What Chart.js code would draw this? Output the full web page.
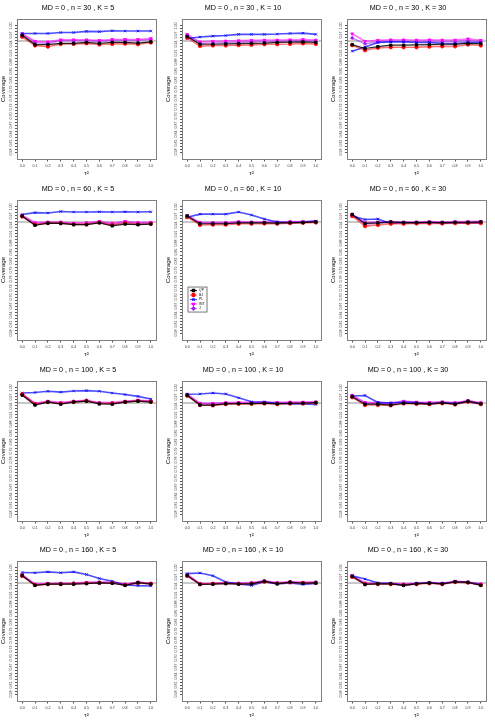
<!DOCTYPE html>
<html>
<head>
<meta charset="utf-8">
<script src="https://cdn.jsdelivr.net/npm/chart.js@4.4.0/dist/chart.umd.min.js"></script>
<style>
body { margin: 0; background: #fff; }
#grid { position: relative; width: 495px; height: 726px; }
#grid canvas { position: absolute; }
</style>
</head>
<body>
<div id="grid"></div>
<script>
const tau = [0.0, 0.1, 0.2, 0.3, 0.4, 0.5, 0.6, 0.7, 0.8, 0.9, 1.0];
const methods = ["QP", "BJ", "PL", "INT", "J"];
const panelN = [30, 30, 30, 60, 60, 60, 100, 100, 100, 160, 160, 160];
const panelK = [5, 10, 30, 5, 10, 30, 5, 10, 30, 5, 10, 30];
const nominal = 0.95;
const yLabelValues = [0.58, 0.61, 0.64, 0.67, 0.70, 0.73, 0.76, 0.79, 0.82, 0.85, 0.88, 0.91, 0.94, 0.97, 1.00];

// one row per panel, left to right, top to bottom
const covQP = [
  [0.969,0.938,0.938,0.942,0.942,0.945,0.942,0.945,0.945,0.943,0.947],
  [0.965,0.939,0.939,0.940,0.941,0.942,0.943,0.945,0.946,0.947,0.945],
  [0.938,0.925,0.931,0.936,0.936,0.937,0.938,0.939,0.939,0.942,0.941],
  [0.970,0.939,0.946,0.945,0.941,0.941,0.947,0.937,0.943,0.941,0.943],
  [0.970,0.944,0.944,0.944,0.947,0.947,0.947,0.946,0.948,0.948,0.950],
  [0.975,0.945,0.947,0.950,0.948,0.948,0.949,0.948,0.949,0.949,0.950],
  [0.976,0.943,0.953,0.946,0.953,0.956,0.947,0.946,0.953,0.956,0.953],
  [0.976,0.943,0.943,0.947,0.948,0.948,0.949,0.947,0.949,0.949,0.951],
  [0.971,0.946,0.946,0.943,0.949,0.948,0.947,0.950,0.946,0.956,0.947],
  [0.975,0.942,0.946,0.946,0.946,0.948,0.950,0.949,0.942,0.951,0.946],
  [0.975,0.945,0.946,0.948,0.946,0.947,0.956,0.947,0.953,0.949,0.950],
  [0.972,0.945,0.947,0.947,0.942,0.947,0.950,0.947,0.954,0.952,0.942]
];
const covBJ = [
  [0.964,0.935,0.931,0.940,0.940,0.942,0.938,0.940,0.941,0.939,0.945],
  [0.961,0.933,0.935,0.935,0.936,0.937,0.939,0.939,0.940,0.942,0.940],
  [0.936,0.919,0.927,0.929,0.929,0.929,0.931,0.932,0.932,0.938,0.935],
  [0.968,0.941,0.946,0.946,0.942,0.942,0.948,0.940,0.946,0.942,0.944],
  [0.966,0.940,0.941,0.941,0.944,0.944,0.945,0.944,0.946,0.947,0.948],
  [0.970,0.936,0.940,0.944,0.944,0.945,0.945,0.945,0.946,0.946,0.946],
  [0.979,0.946,0.953,0.948,0.953,0.957,0.948,0.948,0.953,0.957,0.954],
  [0.974,0.943,0.942,0.946,0.947,0.947,0.948,0.946,0.948,0.948,0.950],
  [0.969,0.943,0.943,0.942,0.948,0.947,0.946,0.949,0.945,0.954,0.946],
  [0.973,0.943,0.946,0.946,0.947,0.949,0.950,0.950,0.943,0.950,0.947],
  [0.973,0.946,0.947,0.949,0.947,0.948,0.954,0.948,0.952,0.950,0.950],
  [0.970,0.946,0.946,0.946,0.943,0.946,0.949,0.946,0.953,0.951,0.943]
];
const covPL = [
  [0.975,0.975,0.975,0.978,0.978,0.982,0.981,0.984,0.983,0.983,0.983],
  [0.958,0.963,0.966,0.968,0.972,0.972,0.972,0.973,0.975,0.976,0.972],
  [0.916,0.930,0.945,0.947,0.947,0.945,0.945,0.942,0.941,0.945,0.945],
  [0.975,0.981,0.980,0.985,0.983,0.983,0.984,0.983,0.984,0.983,0.984],
  [0.966,0.976,0.976,0.976,0.983,0.973,0.960,0.950,0.947,0.950,0.953],
  [0.970,0.958,0.960,0.945,0.948,0.947,0.948,0.946,0.947,0.947,0.947],
  [0.983,0.985,0.989,0.986,0.990,0.991,0.989,0.983,0.978,0.972,0.963],
  [0.979,0.980,0.983,0.980,0.967,0.954,0.953,0.949,0.947,0.947,0.945],
  [0.973,0.975,0.952,0.950,0.953,0.951,0.946,0.951,0.948,0.954,0.947],
  [0.985,0.984,0.987,0.984,0.987,0.978,0.965,0.956,0.943,0.941,0.940],
  [0.981,0.983,0.974,0.953,0.947,0.942,0.954,0.947,0.950,0.945,0.948],
  [0.974,0.963,0.950,0.949,0.942,0.948,0.950,0.947,0.954,0.952,0.945]
];
const covINT = [
  [0.974,0.949,0.947,0.954,0.954,0.954,0.952,0.955,0.955,0.955,0.958],
  [0.972,0.947,0.949,0.950,0.951,0.952,0.953,0.953,0.954,0.955,0.953],
  [0.974,0.949,0.952,0.954,0.954,0.953,0.954,0.953,0.953,0.957,0.952],
  [0.972,0.948,0.950,0.950,0.946,0.948,0.952,0.946,0.952,0.948,0.949],
  [0.972,0.948,0.948,0.948,0.951,0.950,0.950,0.950,0.951,0.951,0.952],
  [0.976,0.948,0.950,0.951,0.950,0.950,0.951,0.950,0.951,0.951,0.952],
  [0.980,0.949,0.956,0.951,0.956,0.959,0.951,0.951,0.956,0.959,0.957],
  [0.979,0.949,0.949,0.951,0.952,0.952,0.953,0.952,0.953,0.953,0.954],
  [0.976,0.952,0.951,0.950,0.956,0.953,0.952,0.954,0.951,0.958,0.951],
  [0.978,0.946,0.948,0.949,0.950,0.952,0.953,0.952,0.946,0.953,0.949],
  [0.979,0.948,0.949,0.951,0.949,0.951,0.957,0.951,0.954,0.952,0.953],
  [0.975,0.950,0.949,0.949,0.946,0.949,0.952,0.949,0.956,0.953,0.947]
];
const covJ = [
  [0.972,0.945,0.942,0.951,0.951,0.951,0.949,0.952,0.952,0.952,0.955],
  [0.969,0.942,0.943,0.945,0.946,0.947,0.948,0.949,0.950,0.951,0.949],
  [0.960,0.941,0.947,0.949,0.949,0.948,0.949,0.948,0.948,0.951,0.948],
  [0.970,0.944,0.948,0.948,0.943,0.944,0.950,0.942,0.949,0.946,0.947],
  [0.970,0.946,0.946,0.946,0.949,0.948,0.948,0.948,0.950,0.950,0.951],
  [0.973,0.943,0.946,0.948,0.947,0.947,0.948,0.947,0.948,0.948,0.949],
  [0.979,0.947,0.954,0.949,0.954,0.958,0.949,0.949,0.954,0.958,0.956],
  [0.978,0.947,0.947,0.949,0.950,0.950,0.951,0.949,0.951,0.951,0.952],
  [0.974,0.950,0.949,0.948,0.953,0.951,0.950,0.952,0.949,0.957,0.949],
  [0.976,0.945,0.947,0.948,0.949,0.951,0.952,0.951,0.945,0.952,0.948],
  [0.976,0.947,0.948,0.950,0.948,0.949,0.956,0.949,0.953,0.951,0.952],
  [0.973,0.948,0.948,0.948,0.945,0.948,0.951,0.948,0.954,0.952,0.945]
];

const coverage = [covQP, covBJ, covPL, covINT, covJ];
const lineColors = ["rgba(0,0,0,0.85)", "rgba(255,0,0,0.55)", "rgba(0,0,255,0.7)", "rgba(255,0,255,0.55)", "rgba(160,32,240,0.55)"];
const pointColors = ["#000000", "#ff0000", "#0000ff", "#ff00ff", "#a020f0"];
const pointStyles = ["rect", "circle", "crossRot", "triangle", "rectRot"];

const FONT = "'Liberation Sans', Arial, sans-serif";
const colLeft = [0, 165, 330];
const rowTop = [0, 181, 362, 542];

// minor y ticks every 0.01 between the labelled ones
const yMinor = [];
for (let v = 58; v <= 100; v++) yMinor.push(v / 100);

const framePlugin = {
  id: "frame",
  beforeDatasetsDraw(chart) {
    const { ctx, chartArea: a, scales } = chart;
    const y = scales.y.getPixelForValue(nominal);
    ctx.save();
    ctx.strokeStyle = "#c8c8c8";
    ctx.lineWidth = 2;
    ctx.beginPath();
    ctx.moveTo(a.left, y);
    ctx.lineTo(a.right, y);
    ctx.stroke();
    ctx.restore();
  },
  afterDraw(chart) {
    const { ctx, chartArea: a, scales } = chart;
    ctx.save();
    ctx.strokeStyle = "#808080";
    ctx.lineWidth = 1;
    ctx.strokeRect(Math.round(a.left) + 0.5, Math.round(a.top) + 0.5, Math.round(a.right - a.left), Math.round(a.bottom - a.top));
    // rotated y tick labels, as in base R
    ctx.fillStyle = "#333";
    ctx.font = "3.6px " + FONT;
    ctx.textAlign = "center";
    ctx.textBaseline = "middle";
    yLabelValues.forEach(v => {
      const py = scales.y.getPixelForValue(v);
      ctx.save();
      ctx.translate(a.left - 6, py);
      ctx.rotate(-Math.PI / 2);
      ctx.fillText(v.toFixed(2), 0, 0);
      ctx.restore();
    });
    ctx.restore();
  }
};

const legendPlugin = {
  id: "boxLegend",
  afterDraw(chart, args, opts) {
    if (!opts.show) return;
    const { ctx, chartArea: a } = chart;
    const x0 = a.left + opts.dx, y0 = a.top + opts.dy;
    const w = 19, h = 25;
    ctx.save();
    ctx.fillStyle = "#fff";
    ctx.fillRect(x0, y0, w, h);
    ctx.strokeStyle = "#555";
    ctx.lineWidth = 0.8;
    ctx.strokeRect(x0, y0, w, h);
    ctx.font = "3.4px " + FONT;
    ctx.textBaseline = "middle";
    chart.data.datasets.forEach((ds, i) => {
      const ly = y0 + 3.5 + i * 4.5;
      ctx.strokeStyle = ds.borderColor;
      ctx.lineWidth = 1.2;
      ctx.beginPath();
      ctx.moveTo(x0 + 2, ly);
      ctx.lineTo(x0 + 9, ly);
      ctx.stroke();
      ctx.fillStyle = ds.backgroundColor;
      ctx.strokeStyle = ds.pointBorderColor;
      Chart.helpers.drawPoint(ctx, {
        pointStyle: ds.pointStyle, radius: 1.6, borderWidth: 0.8, rotation: ds.pointRotation || 0
      }, x0 + 5.5, ly);
      ctx.fillStyle = "#000";
      ctx.fillText(ds.label, x0 + 11, ly);
    });
    ctx.restore();
  }
};

function makePanel(i) {
  const canvas = document.createElement("canvas");
  canvas.width = 165;
  canvas.height = 181;
  canvas.style.left = colLeft[i % 3] + "px";
  canvas.style.top = rowTop[Math.floor(i / 3)] + "px";
  document.getElementById("grid").appendChild(canvas);

  const datasets = methods.map((m, j) => ({
    label: m,
    data: tau.map((t, k) => ({ x: t, y: coverage[j][i][k] })),
    borderColor: lineColors[j],
    backgroundColor: pointColors[j],
    pointBorderColor: pointColors[j],
    pointStyle: pointStyles[j],
    pointRotation: j === 3 ? 180 : 0,
    pointRadius: j === 2 ? 1.8 : 1.7,
    pointBorderWidth: 0.8,
    borderWidth: j === 0 ? 1.2 : 1.6,
    tension: 0
  }));

  new Chart(canvas, {
    type: "line",
    data: { datasets },
    options: {
      responsive: false,
      animation: false,
      events: [],
      layout: { padding: { left: 0, right: 9, top: 0, bottom: 0 } },
      plugins: {
        legend: { display: false },
        tooltip: { enabled: false },
        title: {
          display: true,
          text: `MD = 0 , n = ${panelN[i]} , K = ${panelK[i]}`,
          color: "#000",
          font: { family: FONT, size: 7.2, weight: "normal" },
          padding: { top: 4, bottom: 6.4 }
        },
        boxLegend: { show: i === 4, dx: 6, dy: 87 }
      },
      scales: {
        x: {
          type: "linear",
          min: -0.04,
          max: 1.04,
          afterBuildTicks: s => { s.ticks = tau.map(v => ({ value: v })); },
          afterFit: s => { s.height = 22; },
          ticks: {
            autoSkip: false, maxRotation: 0, padding: 2,
            color: "#333",
            font: { family: FONT, size: 3.6 },
            callback: v => Number(v).toFixed(1)
          },
          grid: { drawOnChartArea: false, drawTicks: true, tickLength: 2.5, color: "#555" },
          border: { display: false },
          title: { display: true, text: "τ²", color: "#000", font: { family: FONT, size: 6.2 }, padding: { top: 0, bottom: 4 } }
        },
        y: {
          min: 0.557,
          max: 1.023,
          afterBuildTicks: s => { s.ticks = yMinor.map(v => ({ value: v })); },
          afterFit: s => { s.width = 17; },
          ticks: { display: false, autoSkip: false },
          grid: { drawOnChartArea: false, drawTicks: true, tickLength: 2, color: "#555" },
          border: { display: false },
          title: { display: true, text: "Coverage", color: "#000", font: { family: FONT, size: 6 }, padding: 0 }
        }
      }
    },
    plugins: [framePlugin, legendPlugin]
  });
}

for (let i = 0; i < 12; i++) makePanel(i);
</script>
</body>
</html>
